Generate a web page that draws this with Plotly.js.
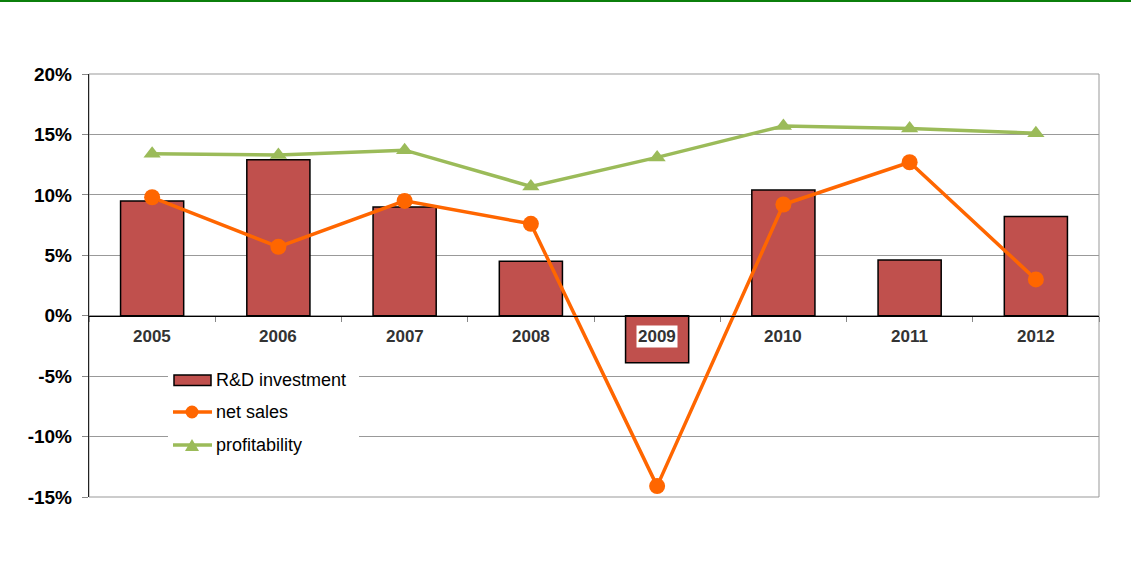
<!DOCTYPE html>
<html>
<head>
<meta charset="utf-8">
<script src="https://cdn.plot.ly/plotly-3.0.1.min.js"></script>
<style>
  html, body { margin: 0; padding: 0; background: #fff; }
  #wrap { position: relative; width: 1131px; height: 562px; }
  #topbar { position: absolute; left: 0; top: 0; width: 1131px; height: 2px; background: #0b7f0b; z-index: 10; }
  #chart { position: absolute; left: 0; top: 0; width: 1131px; height: 562px; }
</style>
</head>
<body>
<div id="wrap">
  <div id="chart"></div>
  <div id="topbar"></div>
</div>
<script>
const years = ['2005', '2006', '2007', '2008', '2009', '2010', '2011', '2012'];
const rdInvestment = [9.5, 12.9, 9.0, 4.5, -3.9, 10.4, 4.6, 8.2];
const netSales = [9.8, 5.7, 9.5, 7.6, -14.1, 9.2, 12.7, 3.0];
const profitability = [13.4, 13.3, 13.7, 10.7, 13.1, 15.7, 15.5, 15.1];
const seriesNames = ['R&D investment', 'net sales', 'profitability'];
const seriesColors = ['#C0504D', '#FF6600', '#9BBB59'];
const yTicks = [-15, -10, -5, 0, 5, 10, 15, 20];
const yTickLabels = ['-15%', '-10%', '-5%', '0%', '5%', '10%', '15%', '20%'];

const FONT = 'Arial, "Liberation Sans", sans-serif';

// plot-area geometry (pixels) used for paper-coordinate legend placement
const W = 1131, H = 562;
const M = { l: 89, r: 32, t: 74, b: 65 };
const PW = W - M.l - M.r, PH = H - M.t - M.b;
const px = x => (x - M.l) / PW;
const py = y => (H - M.b - y) / PH;

const traces = [
  {
    type: 'bar', name: seriesNames[0], x: years, y: rdInvestment,
    marker: { color: seriesColors[0], line: { color: '#000', width: 1.5 } },
    showlegend: false
  },
  {
    type: 'scatter', mode: 'lines+markers', name: seriesNames[1], x: years, y: netSales,
    line: { color: seriesColors[1], width: 3.5 },
    marker: { color: seriesColors[1], size: 16, symbol: 'circle' },
    showlegend: false
  },
  {
    type: 'scatter', mode: 'lines+markers', name: seriesNames[2], x: years, y: profitability,
    line: { color: seriesColors[2], width: 3.5 },
    marker: { color: seriesColors[2], size: 15, symbol: 'triangle-up' },
    showlegend: false
  }
];

const annotations = years.map(function (yr, i) {
  return {
    x: i, y: 0, xref: 'x', yref: 'y',
    text: '<b>' + yr + '</b>', showarrow: false,
    yanchor: 'top', yshift: -9,
    bgcolor: '#ffffff', borderpad: 1,
    font: { family: FONT, size: 17, color: '#333333' }
  };
});

// legend (drawn with shapes + annotations)
const legendRows = [380, 412, 445];
const shapes = [
  { type: 'rect', xref: 'paper', yref: 'paper', x0: 0, x1: 1, y0: 0, y1: 1,
    line: { color: '#999', width: 1 }, fillcolor: 'rgba(0,0,0,0)', layer: 'below' },
  // legend background
  { type: 'rect', xref: 'paper', yref: 'paper', x0: px(168), x1: px(359), y0: py(462), y1: py(366),
    line: { width: 0 }, fillcolor: '#fff', layer: 'above' },
  // bar symbol
  { type: 'rect', xref: 'paper', yref: 'paper', x0: px(174), x1: px(211), y0: py(385.5), y1: py(375),
    line: { color: '#000', width: 1.5 }, fillcolor: seriesColors[0], layer: 'above' },
  // net sales symbol
  { type: 'line', xref: 'paper', yref: 'paper', x0: px(173), x1: px(212), y0: py(legendRows[1]), y1: py(legendRows[1]),
    line: { color: seriesColors[1], width: 3.5 }, layer: 'above' },
  { type: 'circle', xref: 'paper', yref: 'paper', x0: px(185.5), x1: px(198.5), y0: py(418.5), y1: py(405.5),
    line: { width: 0 }, fillcolor: seriesColors[1], layer: 'above' },
  // profitability symbol
  { type: 'line', xref: 'paper', yref: 'paper', x0: px(173), x1: px(212), y0: py(legendRows[2]), y1: py(legendRows[2]),
    line: { color: seriesColors[2], width: 3.5 }, layer: 'above' },
  { type: 'path', xref: 'paper', yref: 'paper',
    path: 'M ' + px(185) + ' ' + py(451) + ' L ' + px(199) + ' ' + py(451) + ' L ' + px(192) + ' ' + py(439) + ' Z',
    line: { width: 0 }, fillcolor: seriesColors[2], layer: 'above' }
];

seriesNames.forEach(function (nm, i) {
  annotations.push({
    xref: 'paper', yref: 'paper', x: px(214), y: py(legendRows[i]),
    xanchor: 'left', yanchor: 'middle', showarrow: false,
    text: nm, font: { family: FONT, size: 18, color: '#000' }
  });
});

const layout = {
  width: W, height: H,
  margin: { l: M.l, r: M.r, t: M.t, b: M.b, pad: 0 },
  paper_bgcolor: '#fff', plot_bgcolor: '#fff',
  showlegend: false,
  bargap: 0.5,
  font: { family: FONT, color: '#000' },
  xaxis: {
    type: 'category', range: [-0.5, years.length - 0.5],
    anchor: 'free', position: 15 / 35,
    showline: true, linecolor: '#000', linewidth: 1.5,
    showgrid: false, zeroline: false,
    showticklabels: false,
    ticks: 'outside', ticklen: 5, tickcolor: '#888', tickson: 'boundaries',
    layer: 'above traces'
  },
  yaxis: {
    range: [-15, 20], tickmode: 'array', tickvals: yTicks, ticktext: yTickLabels,
    showline: true, linecolor: '#222', linewidth: 1.2,
    showgrid: true, gridcolor: '#999', gridwidth: 1,
    zeroline: false,
    ticks: 'outside', ticklen: 6, tickcolor: '#888',
    ticklabelstandoff: 6,
    tickfont: { family: FONT, size: 19, color: '#000', weight: 'bold' }
  },
  shapes: shapes,
  annotations: annotations
};

Plotly.newPlot('chart', traces, layout, { displayModeBar: false, staticPlot: true });
</script>
</body>
</html>
